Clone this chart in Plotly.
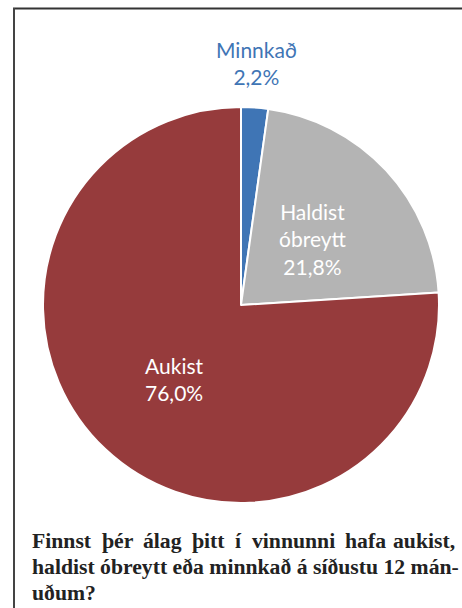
import plotly.graph_objects as go

labels = ["Minnkað", "Haldist óbreytt", "Aukist"]
label_lines = ["Minnkað", "Haldist<br>óbreytt", "Aukist"]
values = [2.2, 21.8, 76.0]
colors = ["#3F75B5", "#B4B4B4", "#963B3C"]
label_colors = ["#3F75B5", "white", "white"]
label_pos = [(256, 63), (313, 239), (174, 379)]  # pixel centres of the label blocks

title_line1_words = ["Finnst", "þér", "álag", "þitt", "í", "vinnunni", "hafa", "aukist,"]
title_line2 = "haldist óbreytt eða minnkað á síðustu 12 mán-"
title_line3 = "uðum?"

W, H = 462, 608
fx = lambda px: px / W
fy = lambda py: 1 - py / H

# approximate Times-Bold advance widths (per 1000 em) used to justify the first title line
TB = {"F": 611, "i": 278, "n": 556, "s": 389, "t": 333, "þ": 556, "é": 444, "r": 444, "á": 500,
      "l": 278, "a": 500, "g": 500, "í": 278, "v": 500, "h": 556, "f": 333, "u": 556, "k": 556, ",": 250}
TSIZE = 21.7
LEFT, RIGHT = 30, 457

fig = go.Figure()
fig.add_trace(go.Pie(
    labels=labels,
    values=values,
    sort=False,
    direction="clockwise",
    rotation=0,
    marker=dict(colors=colors, line=dict(color="white", width=2)),
    textinfo="none",
    hoverinfo="label+percent",
    showlegend=False,
    domain=dict(x=[fx(43), fx(439)], y=[fy(503), fy(107)]),
))

annotations = []
for name, val, col, (px, py) in zip(label_lines, values, label_colors, label_pos):
    annotations.append(dict(
        x=fx(px), y=fy(py), xref="paper", yref="paper",
        text=f"{name}<br>{val:.1f}%".replace(".", ","),
        showarrow=False, xanchor="center", yanchor="middle", align="center",
        font=dict(family="Lato", size=21, color=col),
    ))

tfont = dict(family="Liberation Serif", size=TSIZE, color="#222222")
widths = [sum(TB.get(c, 500) for c in w) / 1000 * TSIZE for w in title_line1_words]
gap = (RIGHT - LEFT - sum(widths)) / (len(widths) - 1)
xpos = LEFT
n = len(title_line1_words)
for i, (w, wd) in enumerate(zip(title_line1_words, widths)):
    if i == n - 1:
        annotations.append(dict(x=fx(RIGHT), y=fy(541), xref="paper", yref="paper", text=f"<b>{w}</b>",
                                showarrow=False, xanchor="right", yanchor="middle", font=tfont))
    else:
        annotations.append(dict(x=fx(xpos), y=fy(541), xref="paper", yref="paper", text=f"<b>{w}</b>",
                                showarrow=False, xanchor="left", yanchor="middle", font=tfont))
    xpos += wd + gap
annotations.append(dict(x=fx(LEFT), y=fy(567), xref="paper", yref="paper", text=f"<b>{title_line2}</b>",
                        showarrow=False, xanchor="left", yanchor="middle", font=tfont))
annotations.append(dict(x=fx(LEFT), y=fy(593), xref="paper", yref="paper", text=f"<b>{title_line3}</b>",
                        showarrow=False, xanchor="left", yanchor="middle", font=tfont))

shapes = [
    dict(type="line", xref="paper", yref="paper", x0=fx(13), x1=fx(462), y0=fy(8.5), y1=fy(8.5),
         line=dict(color="#333333", width=2)),
    dict(type="line", xref="paper", yref="paper", x0=fx(14), x1=fx(14), y0=fy(8), y1=fy(608),
         line=dict(color="#444444", width=2)),
]

fig.update_layout(
    width=W, height=H,
    margin=dict(l=0, r=0, t=0, b=0),
    paper_bgcolor="white",
    plot_bgcolor="white",
    annotations=annotations,
    shapes=shapes,
)

fig.write_html("out.html")
